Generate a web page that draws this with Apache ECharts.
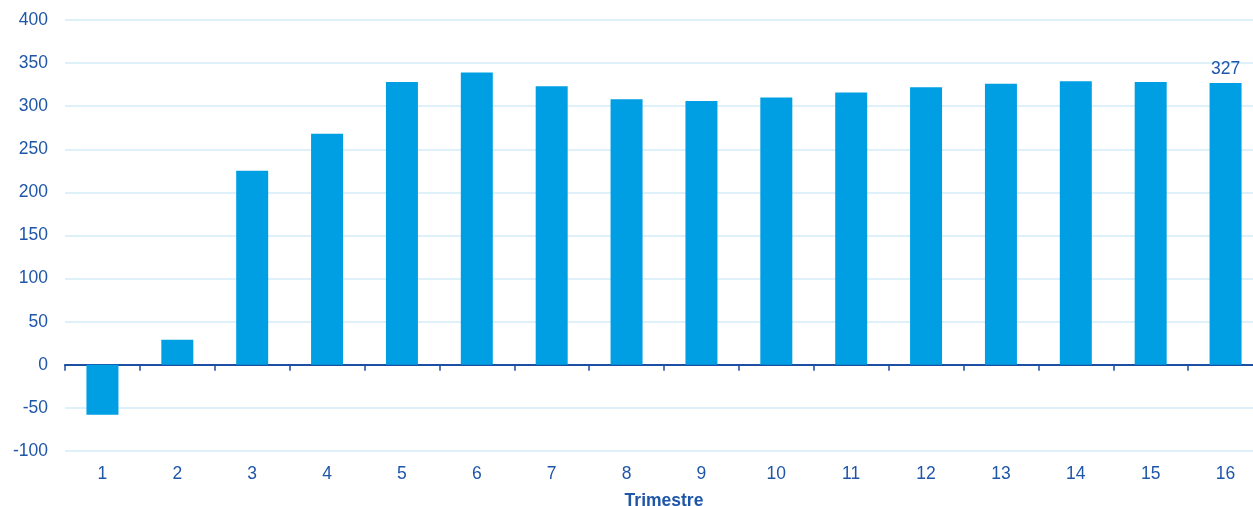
<!DOCTYPE html>
<html>
<head>
<meta charset="utf-8">
<script src="https://cdn.jsdelivr.net/npm/echarts@6/dist/echarts.min.js"></script>
<style>
  html, body { margin: 0; padding: 0; background: #ffffff; }
  #chart { width: 1253px; height: 506px; }
</style>
</head>
<body>
<div id="chart"></div>
<script>
// Quarters on the category axis
const quarters = ['1', '2', '3', '4', '5', '6', '7', '8', '9', '10', '11', '12', '13', '14', '15', '16'];
// Value per quarter
const values = [-58, 29, 225, 268, 328, 339, 323, 308, 306, 310, 316, 322, 326, 329, 328, 327];
// Value axis ticks
const yMin = -100;
const yMax = 400;
const yStep = 50;
const xTitle = 'Trimestre';

const textColor = '#1f56a8';
const axisColor = '#1a4fa3';
const barColor = '#009fe3';
const gridColor = '#d3edf9';
const fontFamily = 'Liberation Sans, Arial, sans-serif';
const fontSize = 17.5;

const chart = echarts.init(document.getElementById('chart'), null, { renderer: 'canvas' });

chart.setOption({
  animation: false,
  backgroundColor: '#ffffff',
  grid: { left: 65, top: 20, bottom: 55, width: 1198, containLabel: false, outerBoundsMode: 'none' },
  xAxis: [
    {
      // bottom axis: quarter labels and title
      type: 'category',
      data: quarters,
      position: 'bottom',
      axisLine: { show: false, onZero: false },
      axisTick: { show: false },
      axisLabel: { color: textColor, fontSize: fontSize, fontFamily: fontFamily, margin: 14 },
      name: xTitle,
      nameLocation: 'middle',
      nameGap: 41,
      nameTextStyle: { color: textColor, fontSize: fontSize, fontWeight: 'bold', fontFamily: fontFamily }
    },
    {
      // zero line with tick marks between quarters
      type: 'category',
      data: quarters,
      position: 'top',
      axisLine: { show: true, onZero: true, lineStyle: { color: axisColor, width: 2 } },
      axisTick: { show: true, inside: true, length: 6, lineStyle: { color: axisColor, width: 1.5 } },
      axisLabel: { show: false },
      splitLine: { show: false }
    }
  ],
  yAxis: {
    type: 'value',
    min: yMin,
    max: yMax,
    interval: yStep,
    axisLine: { show: false },
    axisTick: { show: false },
    axisLabel: { color: textColor, fontSize: fontSize, fontFamily: fontFamily, margin: 17 },
    splitLine: { show: true, lineStyle: { color: gridColor, width: 1.5 } }
  },
  series: [
    {
      type: 'bar',
      xAxisIndex: 0,
      data: values.map((v, i) => ({
        value: v,
        label: {
          show: i === values.length - 1,
          position: 'top',
          distance: 5,
          color: textColor,
          fontSize: fontSize,
          fontFamily: fontFamily
        }
      })),
      barWidth: 32,
      itemStyle: { color: barColor },
      z: 3
    }
  ]
});
</script>
</body>
</html>
